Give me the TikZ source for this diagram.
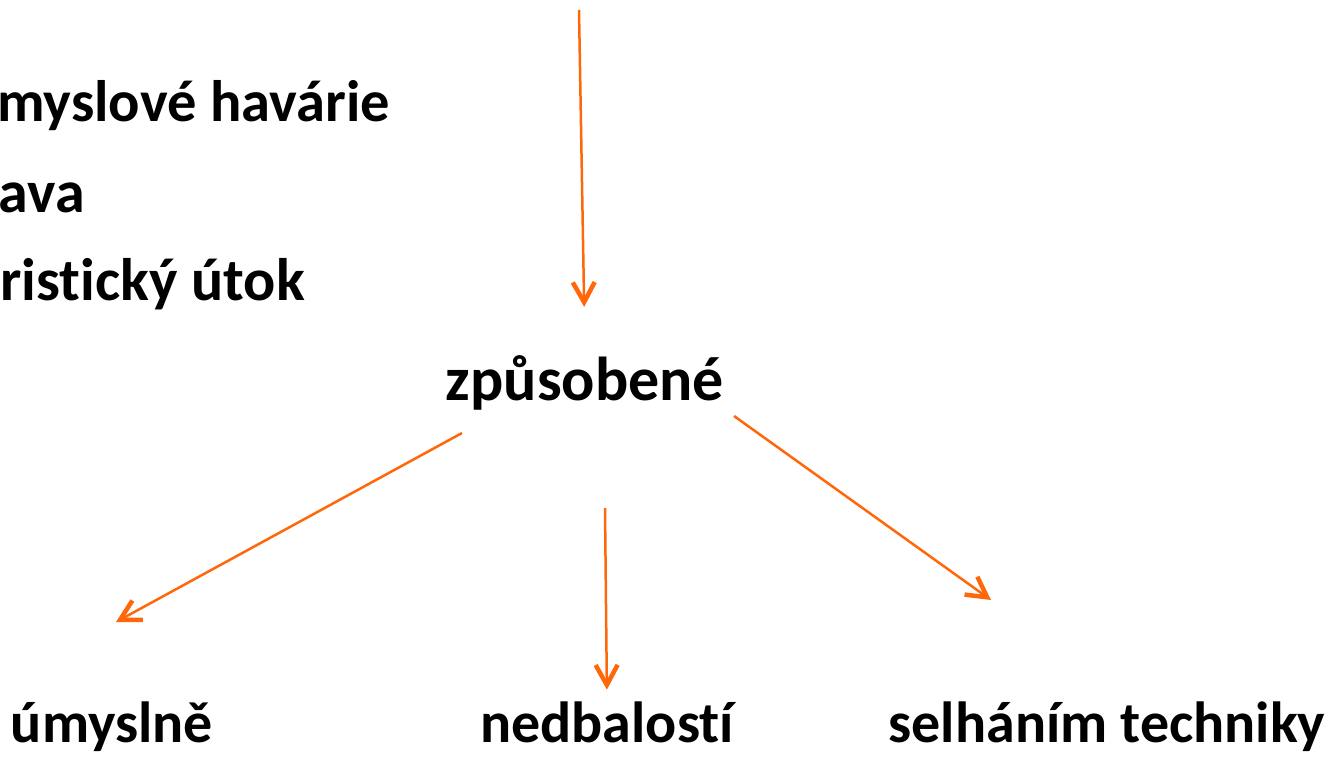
\documentclass[tikz,border=0pt]{standalone}
\usepackage{fontspec}
\setmainfont{Carlito}[Ligatures=NoCommon]
\usetikzlibrary{arrows.meta}
\definecolor{arroworange}{RGB}{255,104,10}

\begin{document}
\begin{tikzpicture}[x=1pt, y=-1pt,
            word node/.style={inner sep=0pt, font=\fontsize{58}{70}\selectfont\bfseries},
            list node/.style={word node, anchor=base east, font=\fontsize{60}{72}\selectfont\bfseries},
            cause arrow/.style={draw=arroworange, line width=2.5pt,
                -{Straight Barb[length=20pt,width=22pt,line width=4.5pt]}}]
        \useasboundingbox (0,0) rectangle (1333,757);

        \node[list node, font=\fontsize{58.5}{70}\selectfont\bfseries] (havarie) at (390,122) {myslové havárie};
        \node[list node] (doprava) at (85,212) {ava};
        \node[list node] (utok) at (305,300) {ristický útok};

        \node[word node, anchor=base, font=\fontsize{62}{72}\selectfont\bfseries] (zpusobene) at (585,400) {způsobené};
        \node[word node, anchor=base] (umyslne) at (112,742) {úmyslně};
        \node[word node, anchor=base] (nedbalosti) at (607,742) {nedbalostí};
        \node[word node, anchor=base] (selhanim) at (1107,742) {selháním techniky};

        \coordinate (shora) at (579,10);
        \coordinate (vlevo start) at (462,433);
        \coordinate (vlevo hrot) at (116,622);
        \coordinate (stred start) at (605,508);
        \coordinate (vpravo start) at (734,416);
        \coordinate (vpravo hrot) at (991,600);

        \path[every edge/.style={cause arrow}]
        (shora) edge[shorten >=48pt] (zpusobene.north)
        (vlevo start) edge (vlevo hrot)
        (stred start) edge[shorten >=11.5pt] (nedbalosti.north)
        (vpravo start) edge (vpravo hrot);
        \end{tikzpicture}
\end{document}
